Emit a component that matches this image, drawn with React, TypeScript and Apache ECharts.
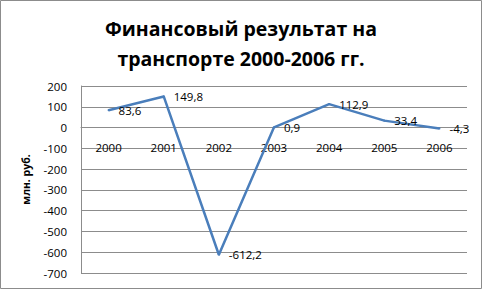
import React, { useEffect, useRef } from "react";
import * as echarts from "echarts";

const years = ["2000", "2001", "2002", "2003", "2004", "2005", "2006"];
const values = [83.6, 149.8, -612.2, 0.9, 112.9, 33.4, -4.3];
const titleLines = ["Финансовый результат на", "транспорте 2000-2006 гг."];
const yName = "млн. руб.";
const yMin = -700;
const yMax = 200;

export default function App() {
  const ref = useRef<HTMLDivElement>(null);
  useEffect(() => {
    const chart = echarts.init(ref.current!, null, { renderer: "svg" });
    const font = "'Open Sans', sans-serif";
    const gridTop = 86;
    const gridBottom = 16;
    const gridH = 289 - gridTop - gridBottom;
    const zeroOffset = -(gridH * (0 - yMin)) / (yMax - yMin);
    chart.setOption({
      animation: false,
      backgroundColor: "#fff",
      title: {
        text: titleLines.join("\n"),
        left: "center",
        top: 8,
        textStyle: {
          fontFamily: font,
          fontWeight: "bold",
          fontSize: 19.5,
          lineHeight: 30,
          color: "#000",
        },
      },
      graphic: [
        {
          type: "rect",
          shape: { x: 0.5, y: 0.5, width: 481, height: 288 },
          style: { fill: "none", stroke: "#8c8c8c", lineWidth: 1 },
          silent: true,
        },
      ],
      grid: { left: 81, right: 15, top: gridTop, bottom: gridBottom },
      xAxis: {
        type: "category",
        data: years,
        boundaryGap: true,
        offset: zeroOffset,
        axisLine: { onZero: false, lineStyle: { color: "#8c8c8c" } },
        axisTick: { show: false },
        axisLabel: { color: "#000", fontFamily: font, fontSize: 11.5, margin: 14 },
      },
      yAxis: {
        type: "value",
        min: yMin,
        max: yMax,
        interval: 100,
        name: yName,
        nameLocation: "middle",
        nameGap: 50,
        nameRotate: 90,
        nameTextStyle: { fontFamily: font, fontWeight: "bold", fontSize: 10.5, color: "#000" },
        axisLine: { show: true, onZero: false, lineStyle: { color: "#8c8c8c" } },
        axisTick: { show: false },
        axisLabel: { color: "#000", fontFamily: font, fontSize: 11.5, margin: 14 },
        splitLine: { lineStyle: { color: "#8c8c8c" } },
      },
      series: [
        {
          type: "line",
          data: values,
          symbol: "circle",
          symbolSize: 2,
          showSymbol: true,
          showAllSymbol: true,
          itemStyle: { color: "#4a7ebb" },
          lineStyle: { color: "#4a7ebb", width: 2.5 },
          label: {
            show: true,
            position: "right",
            distance: 9,
            fontFamily: font,
            fontSize: 11.5,
            color: "#000",
            formatter: (p: any) => String(p.value).replace(".", ","),
          },
        },
      ],
    });
    return () => chart.dispose();
  }, []);
  return (
    <div
      ref={ref}
      style={{ position: "fixed", left: 0, top: 0, width: 482, height: 289 }}
    />
  );
}
